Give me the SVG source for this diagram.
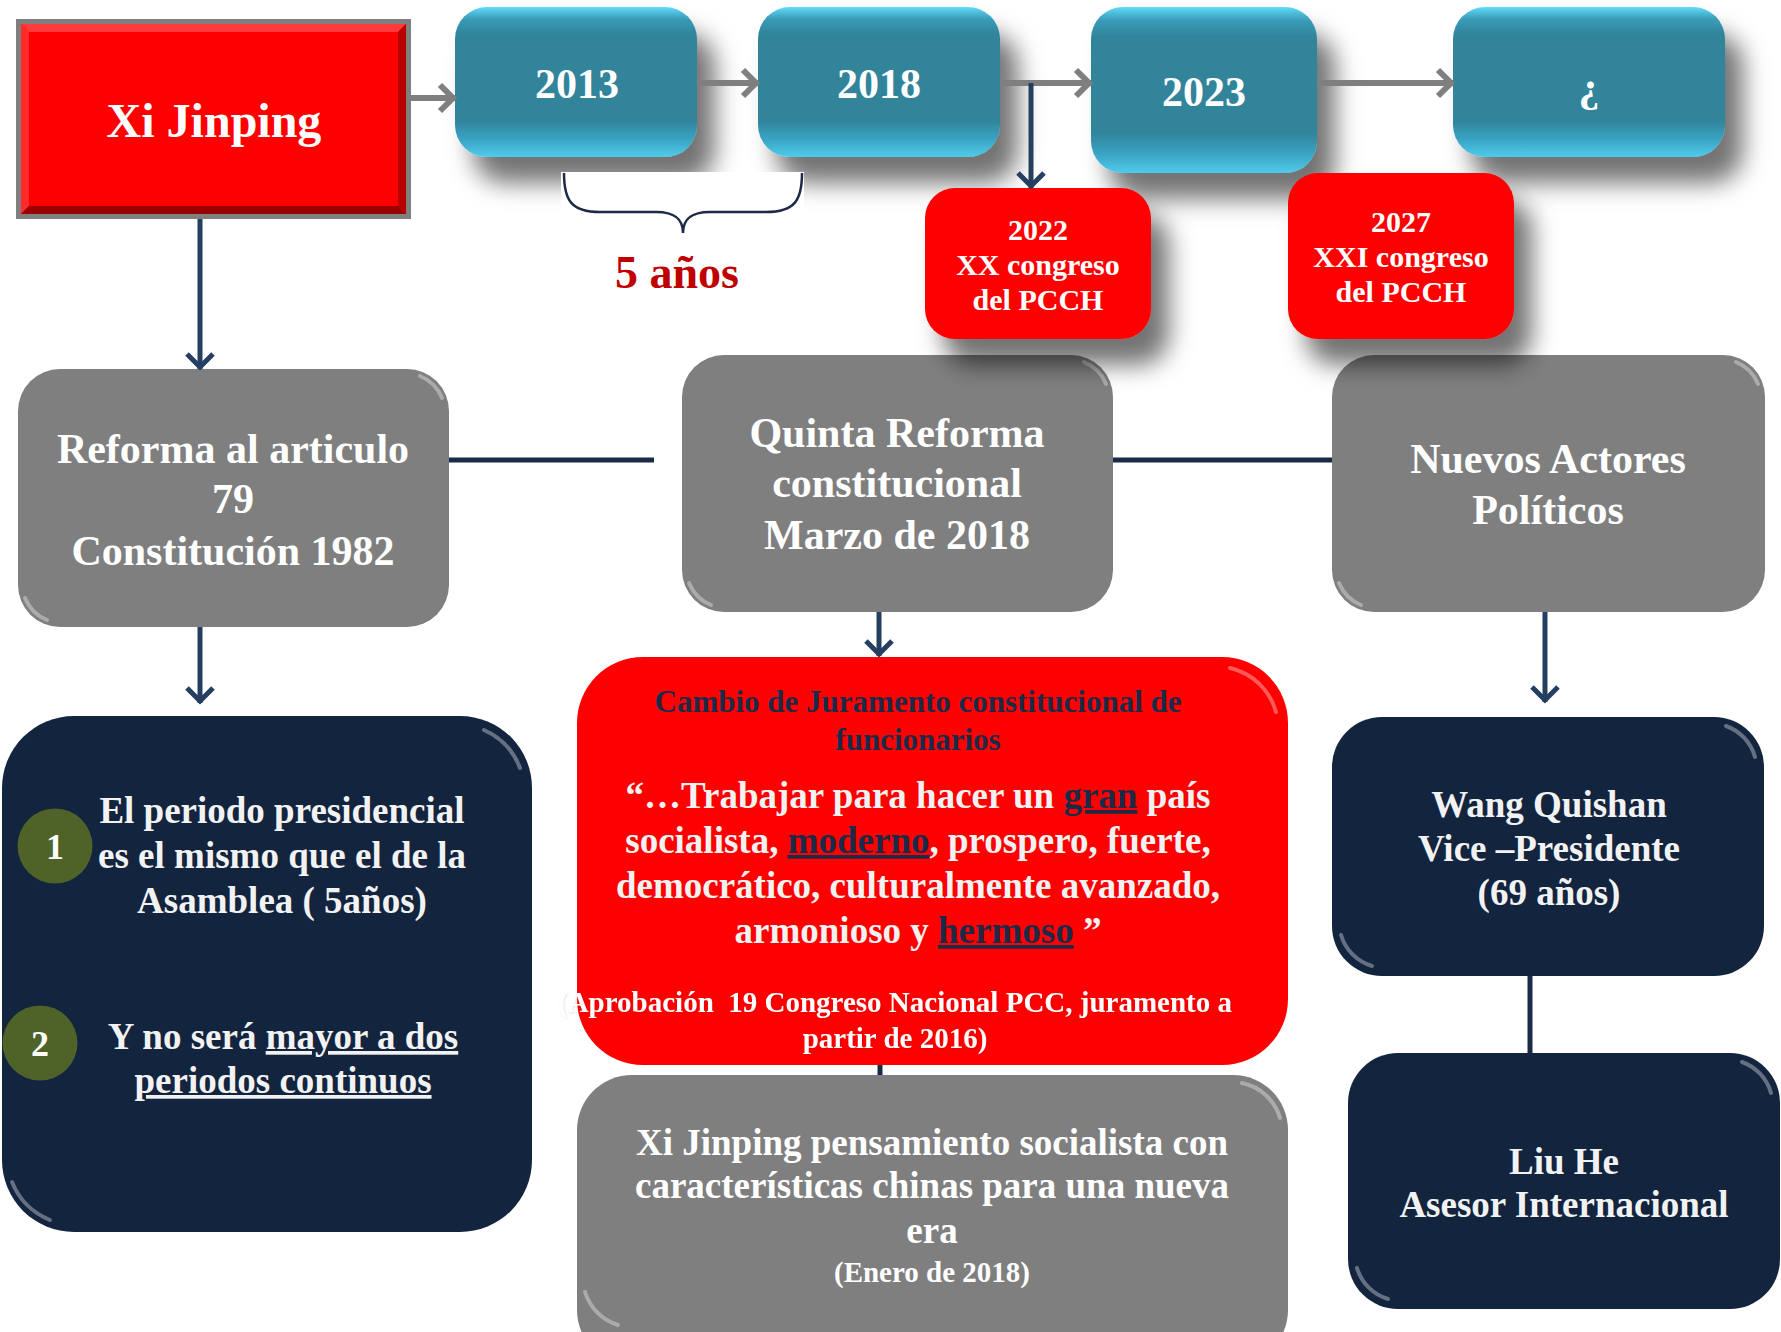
<svg xmlns="http://www.w3.org/2000/svg" width="1781" height="1332" viewBox="0 0 1781 1332">
<defs>
<style>
text{font-family:"Liberation Serif","Times New Roman",serif;font-weight:bold;text-anchor:middle;}
.w{fill:#ffffff;}
.lt{fill:#f2f2f2;}
.nv{fill:#1c2a48;}
.teal{fill:url(#gTeal);}
.red{fill:#ff0000;}
.gray{fill:#7f7f7f;}
.navy{fill:#13243f;}
.hl{fill:none;stroke:#ffffff;stroke-opacity:0.35;stroke-width:4;stroke-linecap:round;}
.cg{fill:none;stroke:#7f7f7f;stroke-width:6;}
.cn{fill:none;stroke:#243f60;stroke-width:5;}
.cl{fill:none;stroke:#1a2b48;stroke-width:5;}
</style>
<linearGradient id="gTeal" x1="0" y1="0" x2="0" y2="1">
<stop offset="0" stop-color="#5fdcf9"/>
<stop offset="0.08" stop-color="#3a9cb8"/>
<stop offset="0.18" stop-color="#31849b"/>
<stop offset="0.76" stop-color="#31849b"/>
<stop offset="0.88" stop-color="#3aa3c2"/>
<stop offset="1" stop-color="#4fcbec"/>
</linearGradient>
<filter id="sh" x="-25%" y="-25%" width="165%" height="180%">
<feDropShadow dx="18" dy="26" stdDeviation="12" flood-color="#000000" flood-opacity="0.55"/>
</filter>
<filter id="tsh" x="-5%" y="-20%" width="110%" height="140%">
<feDropShadow dx="1" dy="1" stdDeviation="1" flood-color="#000000" flood-opacity="0.12"/>
</filter>
<marker id="ag" markerUnits="userSpaceOnUse" markerWidth="30" markerHeight="34" refX="20" refY="17" orient="auto">
<path d="M5,4 L18,17 L5,30" fill="none" stroke="#7f7f7f" stroke-width="6"/>
</marker>
<marker id="an" markerUnits="userSpaceOnUse" markerWidth="26" markerHeight="32" refX="18" refY="16" orient="auto">
<path d="M3,3 L16,16 L3,29" fill="none" stroke="#243f60" stroke-width="5"/>
</marker>
</defs>
<rect width="1781" height="1332" fill="#ffffff"/>

<!-- row 2 (drawn first so the top boxes cast shadows on it) -->
<g id="node-reforma">
<rect class="gray" x="18" y="369" width="431" height="258" rx="42"/>
<path class="hl" d="M420,376 A40,40 0 0 1 442,398"/>
<path class="hl" d="M25,598 A40,40 0 0 0 47,620"/>
<text class="w" font-size="42"><tspan x="233" y="463">Reforma al articulo</tspan><tspan x="233" y="513">79</tspan><tspan x="233" y="565">Constitución 1982</tspan></text>
</g>
<g id="node-quinta">
<rect class="gray" x="682" y="355" width="431" height="257" rx="42"/>
<path class="hl" d="M1084,362 A40,40 0 0 1 1106,384"/>
<path class="hl" d="M689,583 A40,40 0 0 0 711,605"/>
<text class="w" font-size="42"><tspan x="897" y="447">Quinta Reforma</tspan><tspan x="897" y="497">constitucional</tspan><tspan x="897" y="549">Marzo de 2018</tspan></text>
</g>
<g id="node-nuevos">
<rect class="gray" x="1332" y="355" width="433" height="257" rx="42"/>
<path class="hl" d="M1736,362 A40,40 0 0 1 1758,384"/>
<path class="hl" d="M1339,583 A40,40 0 0 0 1361,605"/>
<text class="w" font-size="42"><tspan x="1548" y="473">Nuevos Actores</tspan><tspan x="1548" y="524">Políticos</tspan></text>
</g>

<!-- top timeline nodes -->
<g id="node-2013" filter="url(#sh)">
<rect class="teal" x="455" y="7" width="242" height="150" rx="32"/>
</g>
<g id="node-2018" filter="url(#sh)">
<rect class="teal" x="758" y="7" width="242" height="150" rx="32"/>
</g>
<g id="node-2023" filter="url(#sh)">
<rect class="teal" x="1091" y="7" width="226" height="166" rx="32"/>
</g>
<g id="node-future" filter="url(#sh)">
<rect class="teal" x="1453" y="7" width="272" height="150" rx="32"/>
</g>
<g id="node-2022" filter="url(#sh)">
<rect class="red" x="925" y="188" width="226" height="151" rx="30"/>
</g>
<g id="node-2027" filter="url(#sh)">
<rect class="red" x="1288" y="173" width="226" height="166" rx="30"/>
</g>
<g id="labels-top">
<text class="w" x="577" y="98" font-size="42">2013</text>
<text class="w" x="879" y="98" font-size="42">2018</text>
<text class="w" x="1204" y="106" font-size="42">2023</text>
<text class="w" x="1589" y="101" font-size="42">¿</text>
<text class="w" font-size="30"><tspan x="1038" y="240">2022</tspan><tspan x="1038" y="275">XX congreso</tspan><tspan x="1038" y="310">del PCCH</tspan></text>
<text class="w" font-size="30"><tspan x="1401" y="232">2027</tspan><tspan x="1401" y="267">XXI congreso</tspan><tspan x="1401" y="302">del PCCH</tspan></text>
</g>

<!-- brace label -->
<g id="brace-5anos">
<rect x="561" y="172" width="243" height="42" fill="#ffffff"/>
<path d="M564,173 C564,200 571,212 600,212 L656,212 C676,212 683,220 683,233 C683,220 690,212 710,212 L766,212 C795,212 802,200 802,173" fill="none" stroke="#1c2a48" stroke-width="2.5"/>
<text x="677" y="288" font-size="46" fill="#c00000">5 años</text>
</g>

<!-- Xi Jinping -->
<g id="node-xi">
<rect x="16" y="19" width="395" height="200" fill="#7f7f7f"/>
<rect x="21" y="24" width="385" height="190" fill="#ff0000"/>
<polygon points="21,24 406,24 398,32 29,32" fill="#ff3a3a"/>
<polygon points="21,24 29,32 29,206 21,214" fill="#ff2a2a"/>
<polygon points="406,24 406,214 398,206 398,32" fill="#b80000"/>
<polygon points="21,214 406,214 398,206 29,206" fill="#9a0000"/>
<text class="w" x="214" y="137" font-size="48">Xi Jinping</text>
</g>

<!-- row 3 left -->
<g id="node-periodo">
<rect class="navy" x="2" y="716" width="530" height="516" rx="72"/>
<path class="hl" d="M484,730 A68,68 0 0 1 520,768" stroke-opacity="0.2"/>
<path class="hl" d="M12,1182 A68,68 0 0 0 50,1220" stroke-opacity="0.2"/>
<circle cx="55" cy="846" r="37.5" fill="#4f6228"/>
<text class="w" x="55" y="859" font-size="36">1</text>
<circle cx="40" cy="1043" r="37.5" fill="#4f6228"/>
<text class="w" x="40" y="1056" font-size="36">2</text>
<text class="lt" font-size="37"><tspan x="282" y="823">El periodo presidencial</tspan><tspan x="282" y="868">es el mismo que el de la</tspan><tspan x="282" y="913">Asamblea ( 5años)</tspan></text>
<text class="lt" font-size="37"><tspan x="283" y="1049">Y no será <tspan text-decoration="underline">mayor a dos</tspan></tspan><tspan x="283" y="1093" text-decoration="underline">periodos continuos</tspan></text>
</g>

<!-- row 3 middle -->
<g id="node-juramento">
<rect class="red" x="577" y="657" width="711" height="408" rx="66"/>
<path class="hl" d="M1230,668 A62,62 0 0 1 1276,712" stroke-opacity="0.3"/>
<text class="nv" font-size="31"><tspan x="918" y="712">Cambio de Juramento constitucional de</tspan><tspan x="918" y="750">funcionarios</tspan></text>
<text class="lt" font-size="37"><tspan x="918" y="808">“…Trabajar para hacer un <tspan class="nv" text-decoration="underline">gran</tspan> país</tspan><tspan x="918" y="853">socialista, <tspan class="nv" text-decoration="underline">moderno</tspan>, prospero, fuerte,</tspan><tspan x="918" y="898">democrático, culturalmente avanzado,</tspan><tspan x="918" y="943">armonioso y <tspan class="nv" text-decoration="underline">hermoso</tspan> ”</tspan></text>
<text class="w" font-size="29" filter="url(#tsh)" style="white-space:pre"><tspan x="895" y="1012">(Aprobación  19 Congreso Nacional PCC, juramento a</tspan><tspan x="895" y="1048">partir de 2016)</tspan></text>
</g>
<g id="node-pensamiento">
<rect class="gray" x="577" y="1075" width="711" height="290" rx="55"/>
<path class="hl" d="M1242,1083 A50,50 0 0 1 1280,1118"/>
<path class="hl" d="M585,1292 A50,50 0 0 0 618,1325"/>
<text class="w" font-size="37"><tspan x="932" y="1155">Xi Jinping pensamiento socialista con</tspan><tspan x="932" y="1198">características chinas para una nueva</tspan><tspan x="932" y="1243">era</tspan></text>
<text class="w" x="932" y="1282" font-size="29">(Enero de 2018)</text>
</g>

<!-- row 3 right -->
<g id="node-wang">
<rect class="navy" x="1332" y="717" width="432" height="259" rx="50"/>
<path class="hl" d="M1726,726 A46,46 0 0 1 1755,757" stroke-opacity="0.2"/>
<path class="hl" d="M1341,935 A46,46 0 0 0 1372,966" stroke-opacity="0.2"/>
<text class="lt" font-size="37"><tspan x="1549" y="817">Wang Quishan</tspan><tspan x="1549" y="861">Vice –Presidente</tspan><tspan x="1549" y="905">(69 años)</tspan></text>
</g>
<g id="node-liu">
<rect class="navy" x="1348" y="1053" width="432" height="256" rx="50"/>
<path class="hl" d="M1742,1062 A46,46 0 0 1 1771,1093" stroke-opacity="0.2"/>
<path class="hl" d="M1357,1268 A46,46 0 0 0 1388,1299" stroke-opacity="0.2"/>
<text class="lt" font-size="37"><tspan x="1564" y="1174">Liu He</tspan><tspan x="1564" y="1217">Asesor Internacional</tspan></text>
</g>

<!-- connectors -->
<g id="connectors">
<line class="cg" x1="411" y1="98" x2="455" y2="98" marker-end="url(#ag)"/>
<line class="cg" x1="697" y1="83" x2="758" y2="83" marker-end="url(#ag)"/>
<line class="cg" x1="1000" y1="83" x2="1091" y2="83" marker-end="url(#ag)"/>
<line class="cg" x1="1317" y1="83" x2="1453" y2="83" marker-end="url(#ag)"/>
<line class="cn" x1="1031" y1="83" x2="1031" y2="188" marker-end="url(#an)"/>
<line class="cn" x1="200" y1="219" x2="200" y2="369" marker-end="url(#an)"/>
<line class="cn" x1="200" y1="627" x2="200" y2="703" marker-end="url(#an)"/>
<line class="cl" x1="449" y1="460" x2="654" y2="460"/>
<line class="cl" x1="1113" y1="460" x2="1332" y2="460"/>
<line class="cn" x1="879" y1="612" x2="879" y2="656" marker-end="url(#an)"/>
<line class="cl" x1="880" y1="1065" x2="880" y2="1075"/>
<line class="cn" x1="1545" y1="612" x2="1545" y2="702" marker-end="url(#an)"/>
<line class="cl" x1="1530" y1="976" x2="1530" y2="1053"/>
</g>
</svg>
